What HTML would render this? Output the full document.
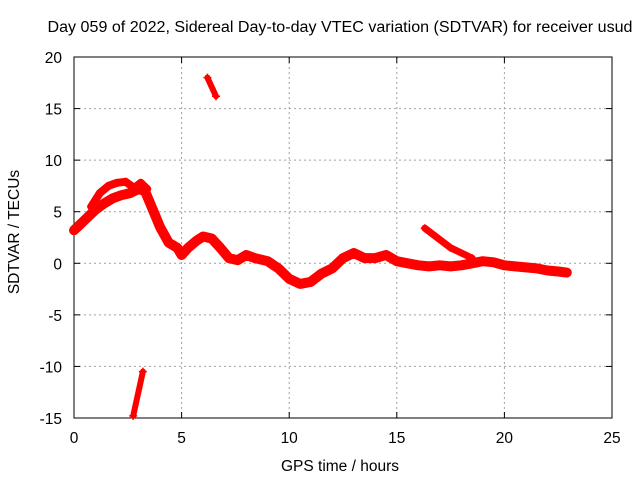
<!DOCTYPE html>
<html><head><meta charset="utf-8"><style>
body{margin:0;background:#fff;width:640px;height:480px;overflow:hidden}
svg text{font-family:"Liberation Sans",sans-serif;font-size:15.5px;fill:#000}
</style></head><body>
<svg id="c" width="640" height="480"></svg>
<script>
const mainHours=[0,0.3,0.7,1,1.4,1.8,2.2,2.6,3,3.3,3.6,4,4.4,4.8,5,5.3,5.7,6,6.4,6.8,7.2,7.6,8,8.4,9,9.5,10,10.5,11,11.5,12,12.5,13,13.5,14,14.5,15,15.5,16,16.5,17,17.5,18,18.5,19,19.5,20,20.5,21,21.5,22,22.5,22.9];
const mainValues=[3.2,3.8,4.6,5.2,5.8,6.3,6.6,6.8,7.2,7,5.5,3.5,2,1.5,0.8,1.5,2.2,2.6,2.4,1.5,0.5,0.3,0.8,0.5,0.2,-0.5,-1.5,-2,-1.8,-1,-0.5,0.5,1,0.5,0.5,0.8,0.2,0,-0.2,-0.3,-0.2,-0.3,-0.2,0,0.2,0.1,-0.2,-0.3,-0.4,-0.5,-0.7,-0.8,-0.9];
const upperHours=[0.8,1.2,1.6,2,2.4,2.8,3.1,3.4];
const upperValues=[5.5,6.8,7.5,7.8,7.9,7.3,7.8,7.2];
const topHours=[6.2,6.6];const topValues=[18,16.2];
const lowHours=[2.75,3.2];const lowValues=[-14.8,-10.5];
const tailHours=[16.3,17.5,18.5];const tailValues=[3.4,1.5,0.5];
const xTicks=[0,5,10,15,20,25];
const yTicks=[20,15,10,5,0,-5,-10,-15];
const svg=document.getElementById('c');const NS='http://www.w3.org/2000/svg';
const X0=74,X1=612,Y0=418,Y1=57;
const xs=v=>X0+(v-0)/25*(X1-X0);
const ys=v=>Y0-(v+15)/35*(Y0-Y1);
function mk(t,a,p){const e=document.createElementNS(NS,t);for(const k in a)e.setAttribute(k,a[k]);(p||svg).appendChild(e);return e;}
const g=mk('g',{});


xTicks.forEach((t,i)=>{const x=xs(t);
 if(i>0&&i<xTicks.length-1){mk('line',{x1:x,x2:x,y1:Y1,y2:Y0,stroke:'#a0a0a0','stroke-dasharray':'2,3'},g);}
 mk('line',{x1:x,x2:x,y1:Y0,y2:Y0-6,stroke:'#000'});mk('line',{x1:x,x2:x,y1:Y1,y2:Y1+6,stroke:'#000'});
 const tx=mk('text',{x:x,y:Y0+25,'text-anchor':'middle'});tx.textContent=t;
 
 
});
yTicks.forEach((t,i)=>{const y=ys(t);
 if(i>0&&i<yTicks.length-1){mk('line',{x1:X0,x2:X1,y1:y,y2:y,stroke:'#a0a0a0','stroke-dasharray':'2,3'},g);}
 mk('line',{x1:X0,x2:X0+6,y1:y,y2:y,stroke:'#000'});mk('line',{x1:X1,x2:X1-6,y1:y,y2:y,stroke:'#000'});
 const tx=mk('text',{x:X0-12,y:y+6,'text-anchor':'end'});tx.textContent=t;
 
 
});
const fr=mk('rect',{x:X0,y:Y1,width:X1-X0,height:Y0-Y1,fill:'none',stroke:'#000'});


function series(hs,vs,name,w){
 const d=hs.map((h,i)=>(i?'L':'M')+xs(h).toFixed(1)+','+ys(vs[i]).toFixed(1)).join('');
 const p=mk('path',{d:d,fill:'none',stroke:'#f00','stroke-width':w,'stroke-linejoin':'round','stroke-linecap':'round'});
 
 
 hs.forEach((h,i)=>{const x=xs(h),y=ys(vs[i]);
  const c=mk('path',{d:`M${x-4},${y}h8M${x},${y-4}v8`,stroke:'#f00','stroke-width':1.5});
  
  
 });
}
series(mainHours,mainValues,'sdtvar-main-series',10);
series(upperHours,upperValues,'sdtvar-upper-band',8);
series(topHours,topValues,'sdtvar-top-segment',6);
series(lowHours,lowValues,'sdtvar-low-segment',6);
series(tailHours,tailValues,'sdtvar-tail-segment',7);
const ti=mk('text',{x:340,y:32,'text-anchor':'middle','font-size':'16px',textLength:585,lengthAdjust:'spacingAndGlyphs'});ti.textContent='Day 059 of 2022, Sidereal Day-to-day VTEC variation (SDTVAR) for receiver usud';


const xl=mk('text',{x:340,y:471,'text-anchor':'middle'});xl.textContent='GPS time / hours';


const yl=mk('text',{x:19,y:232,'text-anchor':'middle',transform:'rotate(-90 19 232)'});yl.textContent='SDTVAR / TECUs';


</script>
</body></html>
